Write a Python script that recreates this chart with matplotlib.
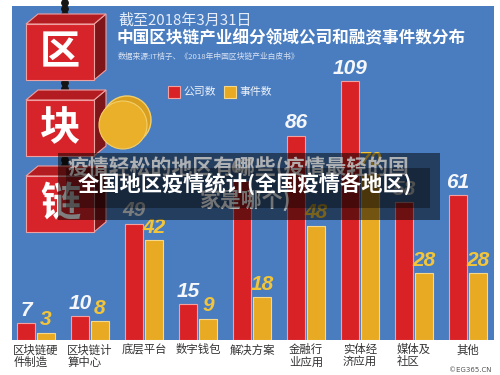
import matplotlib
matplotlib.use("Agg")
import matplotlib.pyplot as plt
from matplotlib.patches import Polygon, Rectangle, Circle

# ---------------- data ----------------
categories = ['区块链硬\n件制造', '区块链计\n算中心', '底层平台', '数字钱包', '解决方案',
              '金融行\n业应用', '实体经\n济应用', '媒体及\n社区', '其他']
companies = [7, 10, 49, 15, 67, 86, 109, 58, 61]
events = [3, 8, 42, 9, 18, 48, 70, 28, 28]
legend_labels = ['公司数', '事件数']
title1 = '截至2018年3月31日'
title2 = '中国区块链产业细分领域公司和融资事件数分布'
source = '数据来源:IT桔子、《2018年中国区块链产业白皮书》'
overlay1 = '疫情轻松的地区有哪些(疫情最轻的国'
overlay1b = '家是哪个)'
overlay2 = '全国地区疫情统计(全国疫情各地区)'
cube_chars = ['区', '块', '链']

BLUE = '#4A7DC0'
RED = '#D92226'
YEL = '#E8AA22'
CJK = ['Noto Sans CJK SC', 'DejaVu Sans']
NUM = ['Liberation Sans', 'DejaVu Sans']

plt.rcParams['font.family'] = CJK

W, H = 500, 375
fig = plt.figure(figsize=(5, 3.75), dpi=100)
fig.patch.set_facecolor('white')

# ---------------- bar axes ----------------
px_per_unit = 54.0
ax_left_px, ax_right_px = 12, 494
ax_top_px, ax_bot_px = 6, 340
ax = fig.add_axes([ax_left_px / W, (H - ax_bot_px) / H,
                   (ax_right_px - ax_left_px) / W, (ax_bot_px - ax_top_px) / H])
ax.set_facecolor(BLUE)
first_center = 36
ax.set_xlim((ax_left_px - first_center) / px_per_unit, (ax_right_px - first_center) / px_per_unit)
ymax = (ax_bot_px - ax_top_px) / 2.376
ax.set_ylim(0, ymax)
for s in ax.spines.values():
    s.set_visible(False)
ax.set_xticks([])
ax.set_yticks([])

idx = list(range(len(categories)))
bw = 18 / px_per_unit
off = 10 / px_per_unit
ax.bar([i - off for i in idx], companies, width=bw, color=RED,
       edgecolor='#F2A0A0', linewidth=0.8, zorder=2)
ax.bar([i + off for i in idx], events, width=bw, color=YEL,
       edgecolor='#F6D88A', linewidth=0.8, zorder=2)

for i, v in enumerate(companies):
    ax.annotate(str(v), (i - off, v), xytext=(0, 2.5), textcoords='offset points',
                ha='center', va='bottom', fontsize=15, fontweight='bold',
                fontstyle='italic', family=NUM, color='#F5F7FA', zorder=3)
for i, v in enumerate(events):
    ax.annotate(str(v), (i + off, v), xytext=(0, 2.5), textcoords='offset points',
                ha='center', va='bottom', fontsize=15, fontweight='bold',
                fontstyle='italic', family=NUM, color='#F2C53A', zorder=3)

# category labels below
for i, c in enumerate(categories):
    ax.annotate(c, (i, 0), xytext=(0, -3), textcoords='offset points',
                ha='center', va='top', multialignment='left', fontsize=8.2,
                color='#333333', linespacing=1.12, annotation_clip=False)

# ---------------- decoration axes (pixel coords) ----------------
d = fig.add_axes([0, 0, 1, 1], zorder=5)
d.set_xlim(0, W)
d.set_ylim(H, 0)
d.axis('off')
d.patch.set_alpha(0)

# chain dots
for y in [3, 9, 15, 83, 89, 95, 160, 166, 172]:
    d.add_patch(Circle((65, y), 3.2, color='#151515', zorder=1))

# cubes
for k, (top, ch) in enumerate(zip([24, 100, 176], cube_chars)):
    fx0, fx1 = 26, 94
    fy0, fy1 = top, top + 56
    dx, dy = 12, 10
    front = Rectangle((fx0, fy0), fx1 - fx0, fy1 - fy0, facecolor='#D7232A',
                      edgecolor='#EFA0A0', linewidth=0.8, zorder=2)
    topf = Polygon([(fx0, fy0), (fx1, fy0), (fx1 + dx, fy0 - dy), (fx0 + dx, fy0 - dy)],
                   closed=True, facecolor='#B31D22', edgecolor='#EFA0A0', linewidth=0.8, zorder=2)
    side = Polygon([(fx1, fy0), (fx1 + dx, fy0 - dy), (fx1 + dx, fy1 - dy), (fx1, fy1)],
                   closed=True, facecolor='#7E1519', edgecolor='#EFA0A0', linewidth=0.8, zorder=2)
    for p in (side, topf, front):
        d.add_patch(p)
    d.text((fx0 + fx1) / 2, (fy0 + fy1) / 2 + 1, ch, ha='center', va='center',
           fontsize=29, fontweight='bold', color='white', zorder=3)

# coin
d.add_patch(Circle((127, 120), 24, facecolor='#D9A020', edgecolor='#F3CF6A', linewidth=1, zorder=4))
d.add_patch(Circle((123, 125), 24, facecolor='#EAB02A', edgecolor='#F3CF6A', linewidth=0.8, zorder=4))

# titles
d.text(118, 21, title1, ha='left', va='center', fontsize=10.8, color='#E6EDF8', zorder=3)
d.text(117, 38, title2, ha='left', va='center', fontsize=12, fontweight='bold',
       color='white', zorder=3)
d.text(118, 57, source, ha='left', va='center', fontsize=5.6, color='#D8E2F2', zorder=3)

# legend
d.add_patch(Rectangle((168, 86), 12, 12, facecolor=RED, edgecolor='#F2A0A0', linewidth=0.8, zorder=3))
d.text(183, 92, legend_labels[0], ha='left', va='center', fontsize=7.8, color='#EEF2F8', zorder=3)
d.add_patch(Rectangle((224, 86), 12, 12, facecolor=YEL, edgecolor='#F6D88A', linewidth=0.8, zorder=3))
d.text(239, 92, legend_labels[1], ha='left', va='center', fontsize=7.8, color='#EEF2F8', zorder=3)

# overlay boxes
d.add_patch(Rectangle((58, 153), 382, 67, facecolor='black', alpha=0.5, linewidth=0, zorder=6))
d.text(68, 167, overlay1, ha='left', va='center', fontsize=15, fontweight='bold',
       color='#BEBEBE', alpha=0.9, zorder=7)
d.text(245, 200, overlay1b, ha='center', va='center', fontsize=15, fontweight='bold',
       color='#BEBEBE', alpha=0.9, zorder=7)
d.add_patch(Rectangle((66, 168), 364, 40, facecolor='black', alpha=0.35, linewidth=0, zorder=8))
d.text(245, 184, overlay2, ha='center', va='center', fontsize=15.3, fontweight='bold',
       color='white', zorder=9)

# watermark
d.text(492, 370, '©EG365.CN', ha='right', va='center', fontsize=5, color='#555555',
       family=['DejaVu Sans'])

fig.savefig('out.png', dpi=100)
